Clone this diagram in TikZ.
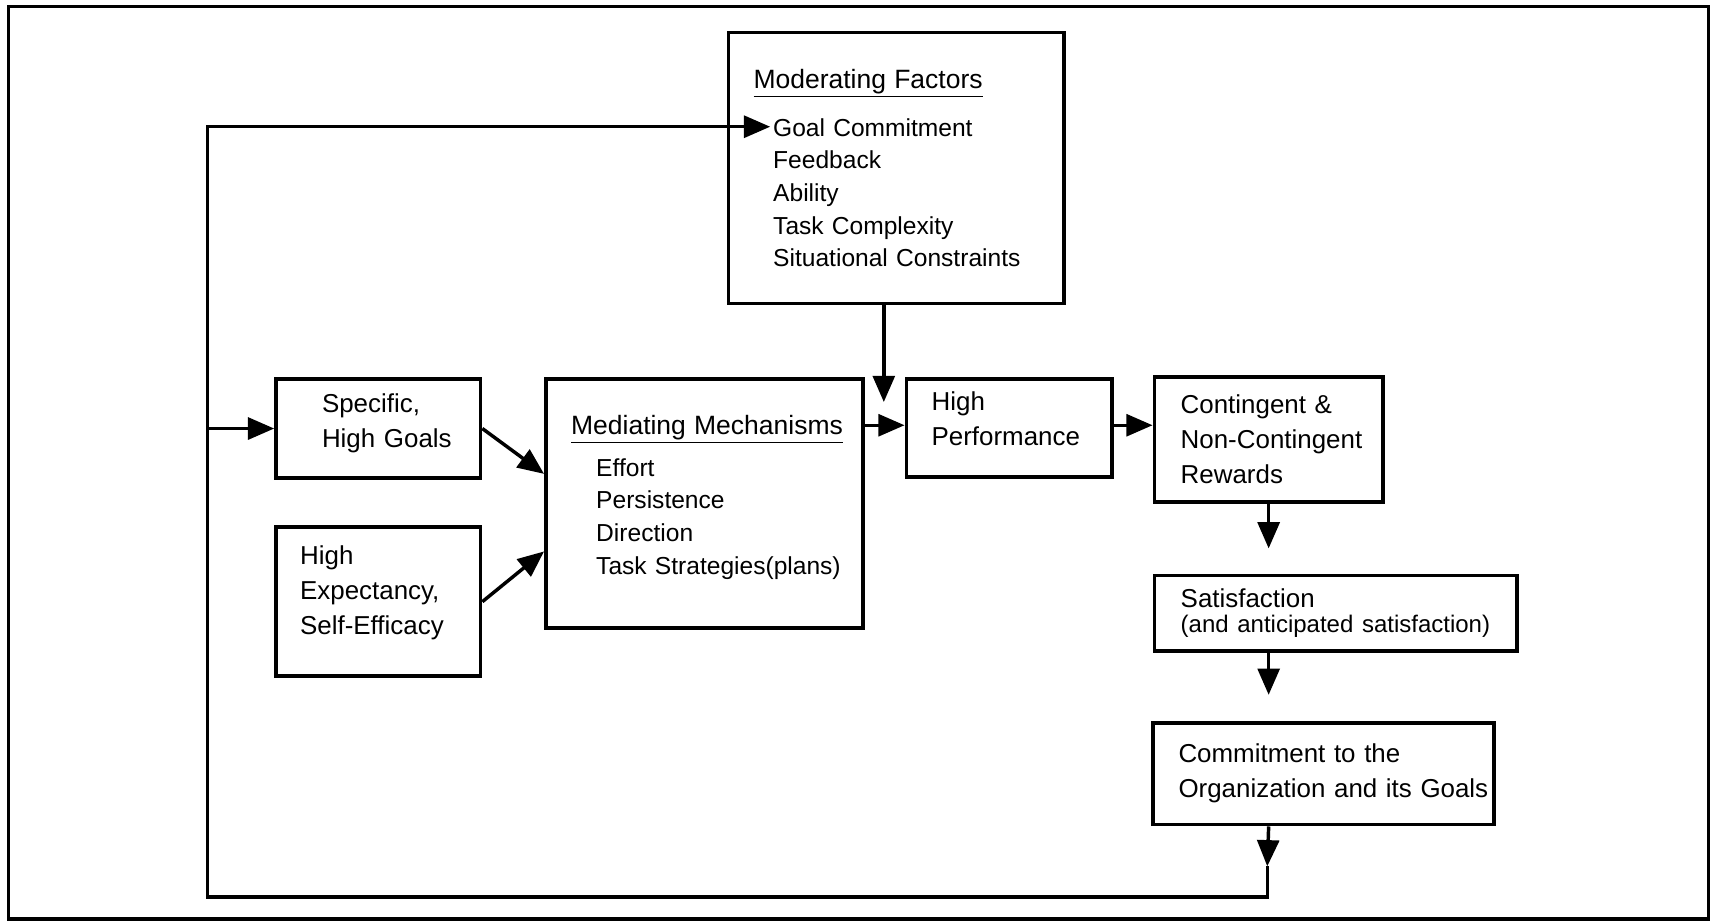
\documentclass[tikz,border=0pt]{standalone}
\usepackage{fontspec}
\setmainfont{Liberation Sans}
\usetikzlibrary{arrows.meta}
\newcommand{\itm}[1][3.6mm]% indent of a list line
{\hspace*{#1}}

\begin{document}
\begin{tikzpicture}[x=0.2mm,y=-0.2mm,
  blk/.style={draw,line width=2pt,anchor=north west,align=left,
    inner xsep=0.6mm,inner ysep=0pt,
    font=\fontsize{13.5}{18.2}\selectfont,
    execute at begin node={\leftskip=#1}},
  blk/.default=4mm,
  lst/.style={font=\fontsize{12.8}{17}\selectfont},
  arr/.style={line width=1.8pt,-{Triangle[length=4.8mm,width=4mm]}}]
  \useasboundingbox (0,0) rectangle (1568,843);
  \draw[line width=1.8pt] (8,6) rectangle (1564,841);
  \node[blk,lst,text width=60.2mm,minimum height=49.6mm] (mod) at (665,28)
    {{\fontsize{13.8}{18}\selectfont\underline{Moderating Factors}}\\[8pt]
     \itm Goal Commitment\\ \itm Feedback\\ \itm Ability\\
     \itm Task Complexity\\ \itm Situational Constraints};
  \node[blk=7.8mm,text width=36.2mm,minimum height=18.2mm] (goals) at (251,345)
    {Specific,\\High Goals\\[-10pt]\mbox{}};
  \node[blk=3.8mm,text width=36.2mm,minimum height=27.2mm] (expect) at (251,481)
    {High\\Expectancy,\\Self-Efficacy\\[-6pt]\mbox{}};
  \node[blk,lst,text width=56.8mm,minimum height=45.6mm] (med) at (498,345)
    {{\fontsize{13.8}{18}\selectfont\underline{Mediating Mechanisms}}\\[4.6pt]
     \itm[4.6mm]Effort\\ \itm[4.6mm]Persistence\\ \itm[4.6mm]Direction\\
     \itm[4.6mm]Task Strategies(plans)\\[-8pt]\mbox{}};
  \node[blk,text width=36.4mm,minimum height=18mm] (perf) at (828,345)
    {High\\Performance\\[-8pt]\mbox{}};
  \node[blk=4.2mm,text width=40.6mm,minimum height=23mm] (rewards) at (1055,343)
    {Contingent \&\\Non-Contingent\\Rewards};
  \node[blk=4.2mm,text width=65.2mm,minimum height=13.8mm] (satis) at (1055,525)
    {Satisfaction\\[-5pt]{\fontsize{12.5}{15}\selectfont(and anticipated satisfaction)}};
  \node[blk,text width=61.2mm,minimum height=18.6mm] (commit) at (1054,660)
    {Commitment to the\\Organization and its Goals};
  \coordinate (perfin) at (809,368);
  \coordinate (tipc) at (1160,793);
  \coordinate (loopl) at (190,821);
  \coordinate (goalin) at (705,116);
  \draw[arr] (goals.east) -- ([yshift=5.4mm]med.west);
  \draw[arr] (expect.east) -- ([yshift=-8.8mm]med.west);
  \draw[arr] ([yshift=0.5mm]med.east |- perf.west) -- ([yshift=0.5mm]perf.west);
  \draw[arr] (mod.south -| perfin) -- (perfin);
  \draw[arr] ([yshift=0.5mm]perf.east) -- ([yshift=0.5mm]perf.east -| rewards.west);
  \draw[arr,shorten >=4.6mm] (rewards.south) -- (rewards.south |- satis.north);
  \draw[arr,shorten >=4.8mm] (satis.south -| rewards.south) -- (commit.north -| rewards.south);
  \draw[arr] (commit.south -| rewards.south) -- (tipc);
  \draw[arr] (tipc) |- (loopl) |- (goalin);
  \draw[arr] (loopl |- goals.west) -- (goals.west);
\end{tikzpicture}
\end{document}
